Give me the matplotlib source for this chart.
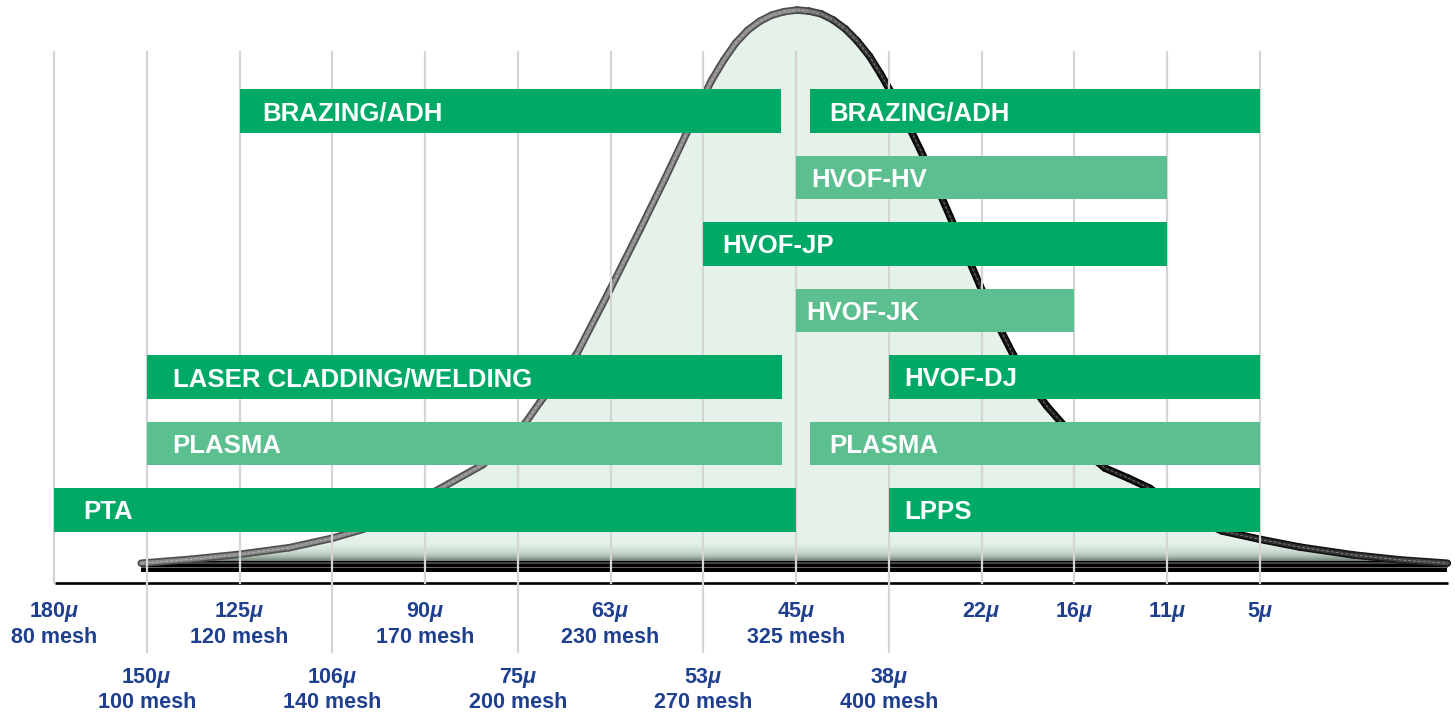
import numpy as np
import matplotlib.pyplot as plt
from matplotlib.collections import LineCollection
from matplotlib.colors import LinearSegmentedColormap, to_rgb
from matplotlib.patches import Polygon

plt.rcParams['font.family'] = ['Liberation Sans', 'DejaVu Sans']
plt.rcParams['mathtext.fontset'] = 'custom'
plt.rcParams['mathtext.rm'] = 'Liberation Sans:bold'
plt.rcParams['mathtext.it'] = 'Liberation Sans:italic:bold'
plt.rcParams['mathtext.bf'] = 'Liberation Sans:bold'

# sieve sizes along the axis, one gridline each
microns = [180, 150, 125, 106, 90, 75, 63, 53, 45, 38, 22, 16, 11, 5]
mesh = [80, 100, 120, 140, 170, 200, 230, 270, 325, 400, None, None, None, None]
lower_row = [150, 106, 75, 53, 38]

# powder size distribution
# x in grid steps (0 = 180 micron), height relative to the peak
curve_x = [0.94, 1.47, 2.00, 2.54, 3.00, 3.33, 3.73, 4.16, 4.62, 4.86, 5.08,
           5.24, 5.45, 5.64, 5.99, 6.32, 6.59, 6.82, 6.96, 7.09, 7.22, 7.35,
           7.48, 7.61, 7.74, 7.87, 8.01, 8.14, 8.27, 8.40, 8.53, 8.66, 8.79,
           8.91, 9.04, 9.17, 9.34, 9.50, 9.66, 9.82, 9.98, 10.15, 10.34, 10.52,
           10.70, 10.89, 11.06, 11.22, 11.33, 11.58, 11.81, 12.03, 12.30, 12.59,
           13.00, 13.43, 14.00, 14.51, 15.02]
curve_h = [0.005, 0.012, 0.021, 0.033, 0.050, 0.066, 0.101, 0.139, 0.182, 0.218, 0.257,
           0.295, 0.340, 0.383, 0.496, 0.606, 0.698, 0.779, 0.831, 0.874, 0.910, 0.941,
           0.964, 0.980, 0.991, 0.997, 1.000, 0.998, 0.993, 0.982, 0.966, 0.944, 0.917,
           0.885, 0.847, 0.806, 0.748, 0.689, 0.628, 0.567, 0.505, 0.442, 0.380, 0.329,
           0.288, 0.252, 0.218, 0.191, 0.176, 0.158, 0.140, 0.113, 0.085, 0.063,
           0.048, 0.034, 0.020, 0.011, 0.005]

# spray processes: label, range in grid steps, row (0 = bottom), light shade or not
proc_label = ['BRAZING/ADH', 'BRAZING/ADH', 'HVOF-HV', 'HVOF-JP', 'HVOF-JK',
              'LASER CLADDING/WELDING', 'HVOF-DJ', 'PLASMA', 'PLASMA', 'PTA', 'LPPS']
proc_start = [2, 8.15, 8, 7, 8, 1, 9, 1, 8.15, 0, 9]
proc_end = [7.84, 13, 12, 12, 11, 7.85, 13, 7.85, 13, 8.0, 13]
proc_row = [6, 6, 5, 4, 3, 2, 2, 1, 1, 0, 0]
proc_light = [False, False, True, False, True, False, False, True, True, False, False]

DARK = '#00aa66'
LIGHT = '#5bbf90'
BLUE = '#1f3f8f'
GRID = '#d5d5d5'

fig = plt.figure(figsize=(14.55, 7.15), dpi=100)
ax = fig.add_axes([0, 0, 1, 1])
ax.set_xlim(-0.582, 15.102)
ax.set_ylim(-0.268, 1.018)
ax.axis('off')

base = 0.009

# area under the curve with a darker shade near the bottom
verts = list(zip(curve_x, curve_h)) + [(curve_x[-1], base), (curve_x[0], base)]
area = Polygon(verts, closed=True, fc='#e5f2ea', ec='none', zorder=1)
ax.add_patch(area)
shade = LinearSegmentedColormap.from_list('shade', ['#e5f2ea', '#b9cbbf', '#6f8076'])
grad = np.linspace(0, 1, 64).reshape(-1, 1) ** 2
im = ax.imshow(grad, cmap=shade, aspect='auto', origin='upper',
               extent=[curve_x[0], curve_x[-1], base, 0.045], zorder=1.5)
im.set_clip_path(area)

# thick bottom band and axis line
ax.fill_between([0.94, 15.02], -0.011, base, color='black', lw=0, zorder=3)
ax.plot([0.94, 15.02], [0.006, 0.006], color='#404040', lw=1.5, zorder=3)
ax.plot([0.94, 15.02], [-0.001, -0.001], color='#6a6a6a', lw=0.7, zorder=3)
ax.plot([0.01, 15.03], [-0.0306, -0.0306], color='black', lw=1.9,
        solid_capstyle='butt', zorder=3)

# curve outline: grey tube on the left, black on the right
pts = np.column_stack([curve_x, curve_h])
segs = np.stack([pts[:-1], pts[1:]], axis=1)
mid = (pts[:-1, 0] + pts[1:, 0]) / 2


def tone(m, left, right, tail):
    left, right, tail = (np.array(to_rgb(c)) for c in (left, right, tail))
    if m < 8.0:
        return left
    if m < 9.0:
        t = m - 8.0
        return left * (1 - t) + right * t
    if m < 12.0:
        return right
    t = min((m - 12.0) / 3.0, 1)
    return right * (1 - t) + tail * t


outer = [tone(m, '#4e4e4e', '#000000', '#202020') for m in mid]
inner = [tone(m, '#8a8a8a', '#1c1c1c', '#4a4a4a') for m in mid]
ax.add_collection(LineCollection(segs, colors=outer, linewidths=5.4, capstyle='round',
                                 joinstyle='round', zorder=3))
ax.add_collection(LineCollection(segs, colors=inner, linewidths=3.0, capstyle='round',
                                 joinstyle='round', zorder=3.1))
ax.plot(curve_x, curve_h, color='white', lw=0.5, ls=(0, (4, 3)), alpha=0.5, zorder=3.2)

# gridlines
for i, m in enumerate(microns):
    bottom = -0.155 if m in lower_row else -0.0306
    ax.plot([i, i], [0.924, bottom], color=GRID, lw=1.6, zorder=3.5)

# axis labels
for i, (m, me) in enumerate(zip(microns, mesh)):
    if m in lower_row:
        y1, y2 = -0.2104, -0.2554
    else:
        y1, y2 = -0.0917, -0.1385
    ax.text(i, y1, f'{m}$\\mu$', ha='center', va='baseline', color=BLUE,
            fontsize=15.5, fontweight='bold')
    if me is not None:
        ax.text(i, y2, f'{me} mesh', ha='center', va='baseline', color=BLUE,
                fontsize=15.5, fontweight='bold')

# process bars
row0, pitch, bar_h = 0.1007, 0.1196, 0.0782
label_pad = [0.25, 0.21, 0.16, 0.2, 0.11, 0.28, 0.16, 0.28, 0.21, 0.32, 0.17]
for lab, s, e, r, light, pad in zip(proc_label, proc_start, proc_end,
                                    proc_row, proc_light, label_pad):
    yc = row0 + pitch * r
    ax.barh(yc, e - s, left=s, height=bar_h, color=LIGHT if light else DARK,
            lw=0, zorder=4)
    ax.text(s + pad, yc - 0.0166, lab, ha='left', va='baseline', color='white',
            fontsize=18.5, fontweight='bold', zorder=5)

fig.savefig('out.png', dpi=100)
